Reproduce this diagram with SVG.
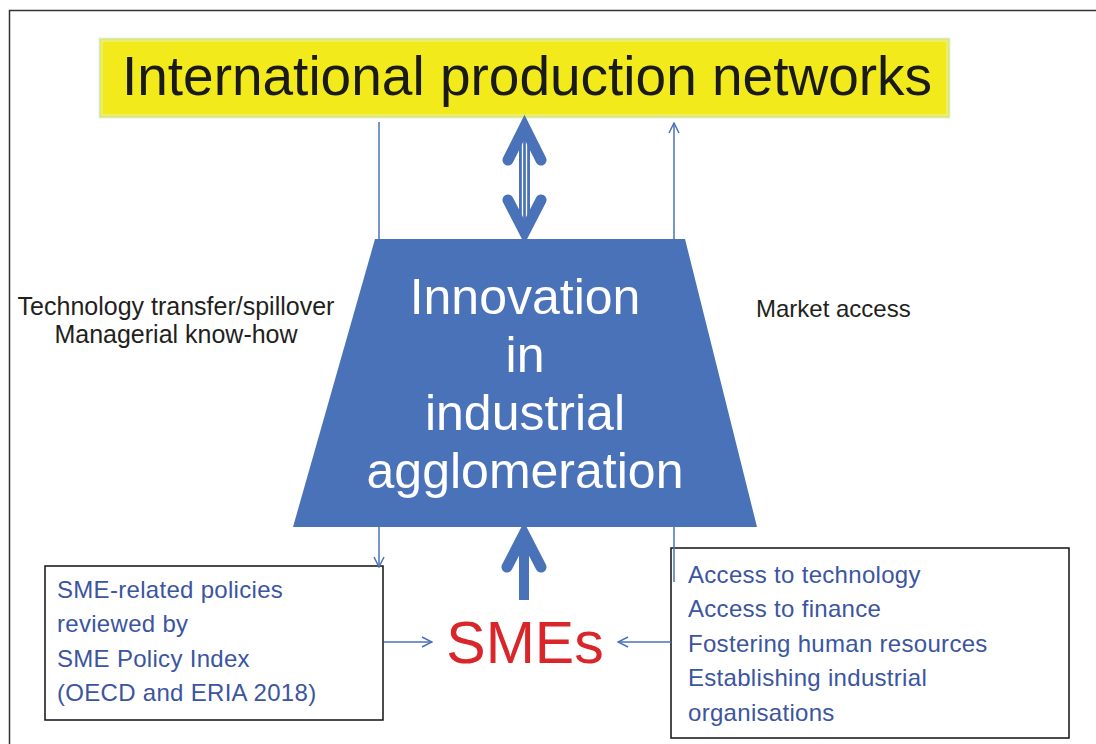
<svg xmlns="http://www.w3.org/2000/svg" width="1096" height="744" viewBox="0 0 1096 744">
<defs>
<style>
.t{font-family:"Liberation Sans",Arial,sans-serif}
.lbl{font-size:25px;fill:#231F20}
.box{fill:#fff;stroke:#111;stroke-width:1.5}
.bt{font-size:24px;fill:#3B55A0;letter-spacing:0.3px}
.thin{stroke:#4A72B8;stroke-width:1.5;fill:none}
.chev{stroke:#4A72B8;stroke-width:11;stroke-linecap:round;stroke-linejoin:miter;fill:none}
.in{font-size:50px;fill:#fff}
</style>
<marker id="ah" viewBox="0 0 12 12" refX="11" refY="6" markerWidth="12" markerHeight="12" markerUnits="userSpaceOnUse" orient="auto">
<path d="M1,1 L11,6 L1,11" fill="none" stroke="#4A72B8" stroke-width="1.5"/>
</marker>
</defs>
<rect x="0" y="0" width="1096" height="744" fill="#fff"/>
<path d="M9.5,744 L9.5,10.5 L1096,10.5" fill="none" stroke="#333" stroke-width="1.5"/>

<g id="ipn">
<rect x="99.5" y="38.5" width="850" height="79" fill="#F2EA1A" stroke="#CFE8CF" stroke-width="1.5"/>
<rect x="102" y="41" width="845" height="74" fill="none" stroke="#E8F0C0" stroke-width="1"/>
<text class="t" x="527" y="95" text-anchor="middle" font-size="55" fill="#1A1A1A">International production networks</text>
</g>

<g id="innovation">
<polygon points="375,239 685,239 757,527 293,527" fill="#4A72B8"/>
<text class="t in" x="525" y="314" text-anchor="middle">Innovation</text>
<text class="t in" x="525" y="372" text-anchor="middle">in</text>
<text class="t in" x="525" y="430" text-anchor="middle">industrial</text>
<text class="t in" x="525" y="488" text-anchor="middle">agglomeration</text>
</g>

<g id="smes">
<text class="t" x="525" y="663" text-anchor="middle" font-size="59" fill="#D9262A">SMEs</text>
</g>

<g id="policy-box">
<rect class="box" x="45" y="566" width="338" height="154"/>
<text class="t bt" x="57" y="598">SME-related policies</text>
<text class="t bt" x="57" y="632">reviewed by</text>
<text class="t bt" x="57" y="667">SME Policy Index</text>
<text class="t bt" x="57" y="701">(OECD and ERIA 2018)</text>
</g>

<g id="access-box">
<rect class="box" x="671" y="548" width="398" height="190"/>
<text class="t bt" x="688" y="583">Access to technology</text>
<text class="t bt" x="688" y="617">Access to finance</text>
<text class="t bt" x="688" y="652">Fostering human resources</text>
<text class="t bt" x="688" y="686">Establishing industrial</text>
<text class="t bt" x="688" y="721">organisations</text>
</g>

<g id="labels">
<text class="t lbl" x="176" y="315" text-anchor="middle">Technology transfer/spillover</text>
<text class="t lbl" x="176" y="343" text-anchor="middle">Managerial know-how</text>
<text class="t lbl" x="756" y="317" style="font-size:24px">Market access</text>
</g>

<g id="connectors">
<line class="thin" x1="379" y1="122" x2="379" y2="239"/>
<line class="thin" x1="674" y1="239" x2="674" y2="123" marker-end="url(#ah)"/>
<line class="thin" x1="379" y1="527" x2="379" y2="567" marker-end="url(#ah)"/>
<line class="thin" x1="674" y1="527" x2="674" y2="582"/>
<line class="thin" x1="384" y1="642" x2="432" y2="642" marker-end="url(#ah)"/>
<line class="thin" x1="671" y1="642" x2="618" y2="642" marker-end="url(#ah)"/>
<rect x="519" y="130" width="11" height="100" fill="#4A72B8"/>
<line x1="522.5" y1="135" x2="522.5" y2="226" stroke="#fff" stroke-width="1.3"/>
<line x1="526.5" y1="135" x2="526.5" y2="226" stroke="#fff" stroke-width="1.3"/>
<polyline class="chev" points="508,160 524.5,127 541,160"/>
<polyline class="chev" points="508,200 524.5,232 541,200"/>
<line x1="524" y1="540" x2="524" y2="600" stroke="#4A72B8" stroke-width="10"/>
<polyline class="chev" points="507,567 524,534 541,567"/>
</g>
</svg>
